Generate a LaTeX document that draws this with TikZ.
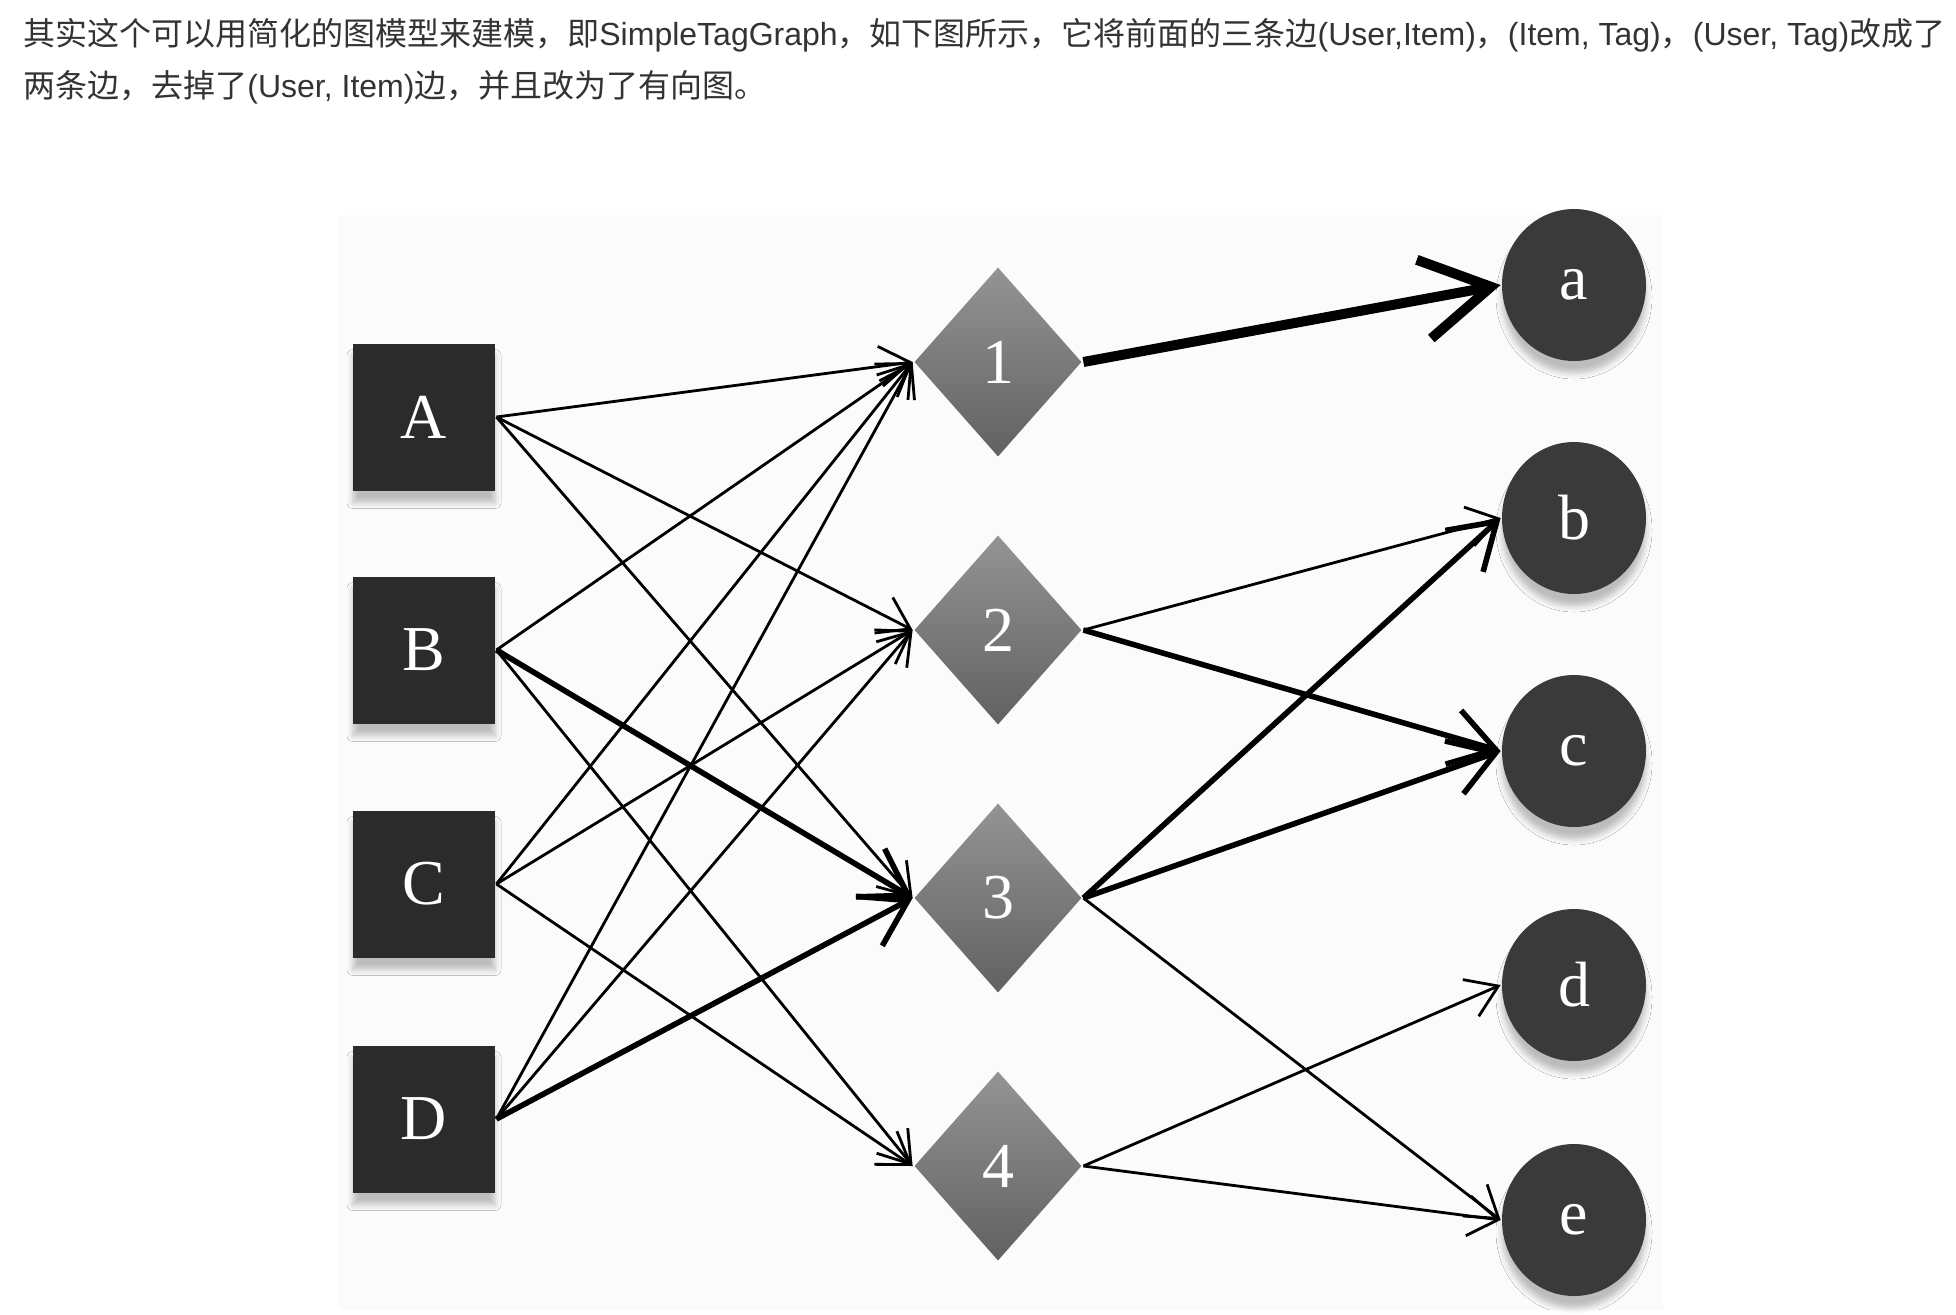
\documentclass[tikz,border=0pt]{standalone}
\usepackage{fontspec}
\setmainfont{Liberation Serif}
\newfontfamily\cjk{Noto Sans CJK SC}
\newfontfamily\latin{Liberation Sans}
\usetikzlibrary{shapes.geometric,arrows.meta,shadows.blur}
\definecolor{usergray}{HTML}{2B2B2B}
\definecolor{itemgray}{HTML}{3A3A3A}
\definecolor{textgray}{HTML}{333333}
\newcommand{\en}[1]{{\latin #1}}

\begin{document}
\begin{tikzpicture}
[x=0.5pt,y=-0.5pt,line width=1.4pt,%
  >={Straight Barb[length=15pt,width=20pt]},%
  every node/.style={inner sep=0pt,text=white,font=\fontsize{32}{32}\selectfont},%
  user/.style={rectangle,fill=usergray,minimum width=71pt,minimum height=73.5pt,
    blur shadow={shadow xshift=0pt,shadow yshift=-6pt,shadow blur radius=3pt,shadow opacity=25}},%
  tag/.style={diamond,top color=black!42,bottom color=black!62,minimum width=84pt,minimum height=95pt},%
  item/.style={ellipse,fill=itemgray,minimum width=72pt,minimum height=76pt,
    blur shadow={shadow xshift=0pt,shadow yshift=-6pt,shadow blur radius=3pt,shadow opacity=25}},%
  strong/.style={line width=2.8pt,-{Straight Barb[length=22pt,width=28pt]}},%
  heavy/.style={line width=5pt,-{Straight Barb[length=34pt,width=40pt]}}]
\useasboundingbox (0,0) rectangle (1956,1314);
% text above the figure
\node[anchor=west,text=textgray,font=\fontsize{16}{20}\cjk] (line1) at (22,35)
  {其实这个可以用简化的图模型来建模，即\en{SimpleTagGraph}，如下图所示，它将前面的三条边\en{(User,Item)}，\en{(Item, Tag)}，\en{(User, Tag)}改成了};
\node[anchor=west,text=textgray,font=\fontsize{16}{20}\cjk] (line2) at (22,87)
  {两条边，去掉了\en{(User, Item)}边，并且改为了有向图。};
% figure panel
\fill[black!1.5] (339,215) rectangle (1663,1310);
% users
\node[user] (A) at (424,417) {A};
\node[user] (B) at (424,650) {B};
\node[user] (C) at (424,884) {C};
\node[user] (D) at (424,1119) {D};
% tags
\node[tag] (t1) at (998,362) {1};
\node[tag] (t2) at (998,630) {2};
\node[tag] (t3) at (998,898) {3};
\node[tag] (t4) at (998,1166) {4};
% items
\node[item] (a) at (1574,285) {a};
\node[item] (b) at (1574,518) {b};
\node[item] (c) at (1574,751) {c};
\node[item] (d) at (1574,985) {d};
\node[item] (e) at (1574,1220) {e};
% user -> tag
\draw[->] (A.east) -- (t1.west);
\draw[->] (A.east) -- (t2.west);
\draw[->] (A.east) -- (t3.west);
\draw[->] (B.east) -- (t1.west);
\draw[strong] (B.east) -- (t3.west);
\draw[->] (B.east) -- (t4.west);
\draw[->] (C.east) -- (t1.west);
\draw[->] (C.east) -- (t2.west);
\draw[->] (C.east) -- (t4.west);
\draw[->] (D.east) -- (t1.west);
\draw[->] (D.east) -- (t2.west);
\draw[strong] (D.east) -- (t3.west);
% tag -> item
\draw[heavy] (t1.east) -- (a.west);
\draw[->] (t2.east) -- (b.west);
\draw[strong] (t2.east) -- (c.west);
\draw[strong] (t3.east) -- (b.west);
\draw[strong] (t3.east) -- (c.west);
\draw[->] (t3.east) -- (e.west);
\draw[->] (t4.east) -- (d.west);
\draw[->] (t4.east) -- (e.west);
\end{tikzpicture}
\end{document}
